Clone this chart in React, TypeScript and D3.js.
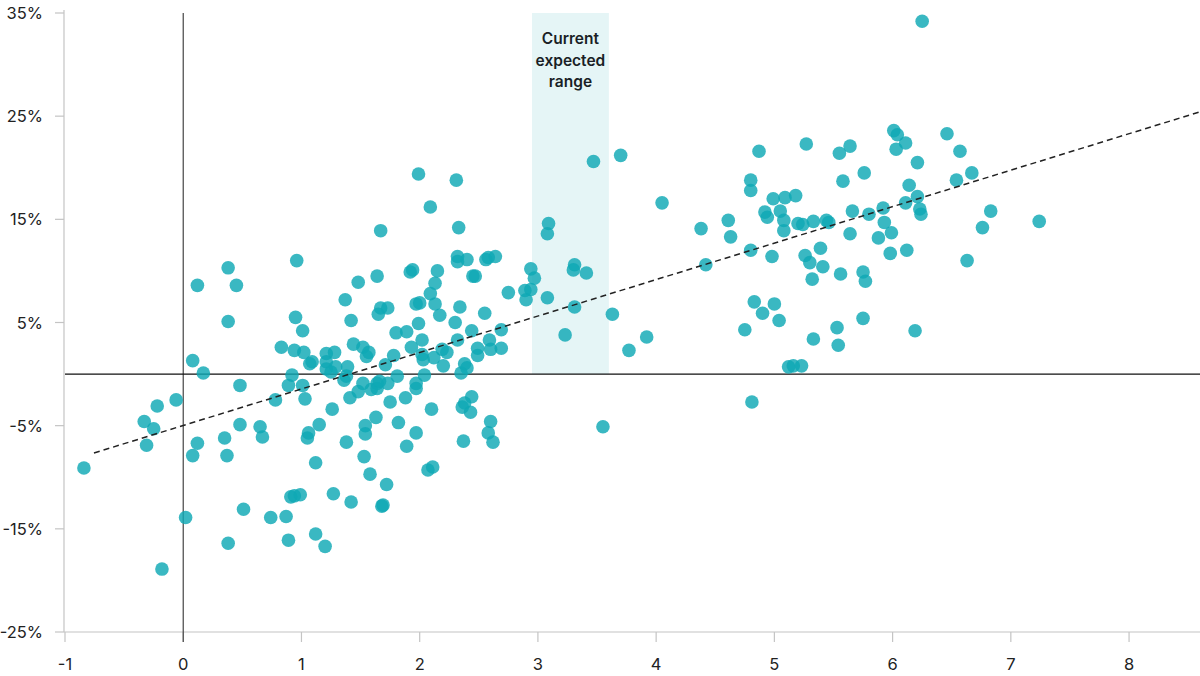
import React from "react";
import * as d3 from "d3";

const xTicks = [-1, 0, 1, 2, 3, 4, 5, 6, 7, 8];
const yTicks = [35, 25, 15, 5, -5, -15, -25];
const bandRange = [2.95, 3.6];
const bandLabel = ["Current", "expected", "range"];
const trendRange = [-0.755, 8.6];
const trendSlope = 3.535;
const trendIntercept = -4.98;

const xs = [
  -0.84, -0.33, -0.31, -0.25, -0.22, -0.06, -0.18, 0.02, 0.08, 0.12, 0.17, 0.12, 0.08, 0.38, 0.45, 0.38, 0.48, 0.35, 0.37, 0.38,
  0.48, 0.51, 0.65, 0.67, 0.74, 0.78, 0.83, 0.87, 0.89, 0.91, 0.94, 0.99, 0.95, 0.96, 0.94, 0.92, 0.89, 1.01, 1.02, 1.01,
  1.03, 1.05, 1.06, 1.07, 1.09, 1.12, 1.12, 1.15, 1.2, 1.21, 1.21, 1.21, 1.27, 1.26, 1.28, 1.29, 1.25,
  1.39, 1.38, 1.36, 1.37, 1.42, 1.44, 1.48, 1.52, 1.57, 1.55, 1.52, 1.48, 1.41, 1.59, 1.64, 1.64, 1.73, 1.66, 1.64, 1.67,
  1.67, 1.65, 1.73, 1.8, 1.89, 1.78, 1.71, 1.81, 1.75, 1.88, 1.63, 1.54, 1.54, 1.82, 1.38, 1.53, 1.58, 1.72, 1.42, 1.68,
  1.69, 1.89, 1.97,
  1.99, 2.31, 2.09, 2.33, 2.32, 2.32, 2.4, 2.56, 2.58, 2.64, 1.94, 1.92, 2.15, 2.45, 2.47, 2.13, 2.09, 1.97, 2.0, 2.13,
  2.34, 2.17, 2.55, 1.99, 2.3, 2.44, 2.69, 2.02, 2.32, 2.59, 1.93, 2.19, 2.23, 2.49, 2.49, 2.6, 2.69, 2.02, 2.03, 2.12,
  2.2, 2.38, 2.35, 2.04, 1.97, 1.97, 2.4, 2.38, 2.44, 2.43, 2.36, 2.37, 2.6, 2.58, 2.62, 2.1, 2.07, 2.11,
  2.75, 2.89, 2.94, 2.9, 2.94, 2.97, 3.09, 3.08, 3.08, 3.31, 3.3, 3.41, 3.31, 3.23, 3.63, 3.77, 3.92, 3.55, 3.47, 3.7, 4.05,
  4.38, 4.42, 4.61, 4.63, 4.75, 4.8, 4.8, 4.87, 4.8, 4.81, 4.83, 4.9, 5.0, 5.04, 4.98, 4.92, 4.94, 4.99, 5.09, 5.18,
  5.05, 5.08, 5.08, 5.2, 5.24, 5.33, 5.44, 5.46, 5.27, 5.55, 5.64, 5.76, 5.58, 5.66, 5.8, 5.92, 5.93, 5.99, 5.88, 5.64,
  5.26, 5.3, 5.39, 5.41, 5.32, 5.56, 5.75, 5.77, 5.98, 6.12, 5.75, 5.53, 5.54, 5.33, 6.19, 5.12, 5.16, 5.23,
  6.01, 6.04, 6.11, 6.03, 6.46, 6.57, 6.21, 6.14, 6.54, 6.67, 6.21, 6.11, 6.23, 6.24, 6.83, 6.76, 7.24, 6.63, 6.25,
];

const ys = [
  -9.1, -4.6, -6.9, -5.3, -3.1, -2.5, -18.9, -13.9, 1.3, 8.6, 0.1, -6.7, -7.9, 10.3, 8.6, 5.1, -1.1, -6.2, -7.9, -16.4,
  -4.9, -13.1, -5.1, -6.1, -13.9, -2.5, 2.6, -13.8, -16.1, -11.9, -11.8, -11.7, 5.5, 11.0, 2.3, -0.1, -1.1, 4.2, 2.1, -1.1,
  -2.4, -6.2, -5.7, 1.0, 1.2, -8.6, -15.5, -4.9, -16.7, 2.0, 1.2, 0.5, -11.6, -3.4, 2.1, 0.7, 0.2,
  0.7, -0.2, -0.6, 7.2, 5.2, 2.9, 8.9, 2.6, 2.1, 1.7, -0.9, -1.7, -2.3, -1.5, -0.9, -1.4, -0.9, -0.7, 9.5, 13.9,
  6.4, 5.8, 6.4, 4.0, 4.1, 1.8, 0.9, -0.2, -2.7, -2.3, -4.2, -5.0, -5.8, -4.7, -6.6, -8.0, -9.7, -10.7, -12.4, -12.8,
  -12.7, -7.0, -5.7,
  19.4, 18.8, 16.2, 14.2, 11.4, 10.9, 11.1, 11.1, 11.3, 11.4, 10.1, 9.9, 10.0, 9.5, 9.5, 8.8, 7.8, 6.8, 6.9, 6.8,
  6.5, 5.7, 5.9, 4.9, 5.0, 4.2, 4.3, 3.3, 3.3, 3.3, 2.6, 2.4, 2.1, 2.5, 1.8, 2.4, 2.5, 1.9, 1.4, 1.6,
  0.8, 1.0, 0.1, -0.1, -0.9, -1.4, 0.6, -2.8, -2.2, -3.7, -3.2, -6.5, -4.6, -5.7, -6.6, -3.4, -9.3, -9.0,
  7.9, 8.1, 8.2, 7.2, 10.2, 9.3, 14.6, 13.6, 7.4, 10.6, 10.1, 9.8, 6.5, 3.8, 5.8, 2.3, 3.6, -5.1, 20.6, 21.2, 16.6,
  14.1, 10.6, 14.9, 13.3, 4.3, 18.8, 17.8, 21.6, 12.0, -2.7, 7.0, 5.9, 6.8, 5.2, 11.4, 15.7, 15.2, 17.0, 17.1, 17.3,
  15.8, 14.9, 13.9, 14.6, 14.5, 14.8, 14.9, 14.7, 22.3, 21.4, 22.1, 19.5, 18.7, 15.8, 15.5, 16.1, 14.7, 13.7, 13.2, 13.6,
  11.5, 10.8, 12.2, 10.4, 9.2, 9.7, 9.9, 9.0, 11.7, 12.0, 5.4, 4.5, 2.8, 3.4, 4.2, 0.7, 0.8, 0.8,
  23.6, 23.2, 22.4, 21.8, 23.3, 21.6, 20.5, 18.3, 18.8, 19.5, 17.2, 16.6, 16.0, 15.5, 15.8, 14.2, 14.8, 11.0, 34.2,
];

const W = 1200;
const H = 676;
const left = 65;
const right = 1200;
const top = 13;
const bottom = 632;
const font = "Inter, 'Liberation Sans', sans-serif";

export default function App() {
  const x = d3.scaleLinear().domain([-1, 8.6]).range([left, right]);
  const y = d3.scaleLinear().domain([-25, 35]).range([bottom, top]);
  const points = xs.map((v, i) => ({ x: v, y: ys[i] }));
  const trend = d3
    .line<number>()
    .x((d) => x(d))
    .y((d) => y(trendIntercept + trendSlope * d))(trendRange);

  return (
    <svg
      width={W}
      height={H}
      style={{ position: "absolute", left: 0, top: 0, background: "#fff" }}
      fontFamily={font}
    >
      <rect
        x={x(bandRange[0])}
        y={y(35)}
        width={x(bandRange[1]) - x(bandRange[0])}
        height={y(0) - y(35)}
        fill="#e5f5f6"
      />
      {bandLabel.map((t, i) => (
        <text
          key={t}
          x={(x(bandRange[0]) + x(bandRange[1])) / 2}
          y={44 + i * 21.7}
          textAnchor="middle"
          fontSize={15.5}
          fontWeight={600}
          fill="#1a1f26"
        >
          {t}
        </text>
      ))}
      {/* left axis */}
      <line x1={left - 1} x2={left - 1} y1={10} y2={bottom} stroke="#c4c4c4" strokeWidth={1.2} />
      {yTicks.map((t) => (
        <g key={t}>
          <line x1={55} x2={left - 1} y1={y(t)} y2={y(t)} stroke="#c4c4c4" strokeWidth={1.2} />
          <text x={43} y={y(t) + 6} textAnchor="end" fontSize={16.5} fill="#222">
            {t}%
          </text>
        </g>
      ))}
      {/* bottom axis */}
      <line x1={left - 1} x2={right} y1={bottom} y2={bottom} stroke="#c4c4c4" strokeWidth={1.2} />
      {xTicks.map((t) => (
        <g key={t}>
          <line x1={x(t)} x2={x(t)} y1={bottom} y2={bottom + 10} stroke="#c4c4c4" strokeWidth={1.2} />
          <text x={x(t)} y={670} textAnchor="middle" fontSize={16.5} fill="#222">
            {t}
          </text>
        </g>
      ))}
      {/* zero lines */}
      <line x1={x(0)} x2={x(0)} y1={top} y2={bottom + 10} stroke="#444" strokeWidth={1.2} />
      <line x1={left} x2={right} y1={y(0)} y2={y(0)} stroke="#111" strokeWidth={1.2} />
      {points.map((p, i) => (
        <circle key={i} cx={x(p.x)} cy={y(p.y)} r={6.8} fill="#0fa8b4" fillOpacity={0.82} />
      ))}
      <path d={trend || ""} fill="none" stroke="#222" strokeWidth={1.5} strokeDasharray="6,4" />
    </svg>
  );
}
